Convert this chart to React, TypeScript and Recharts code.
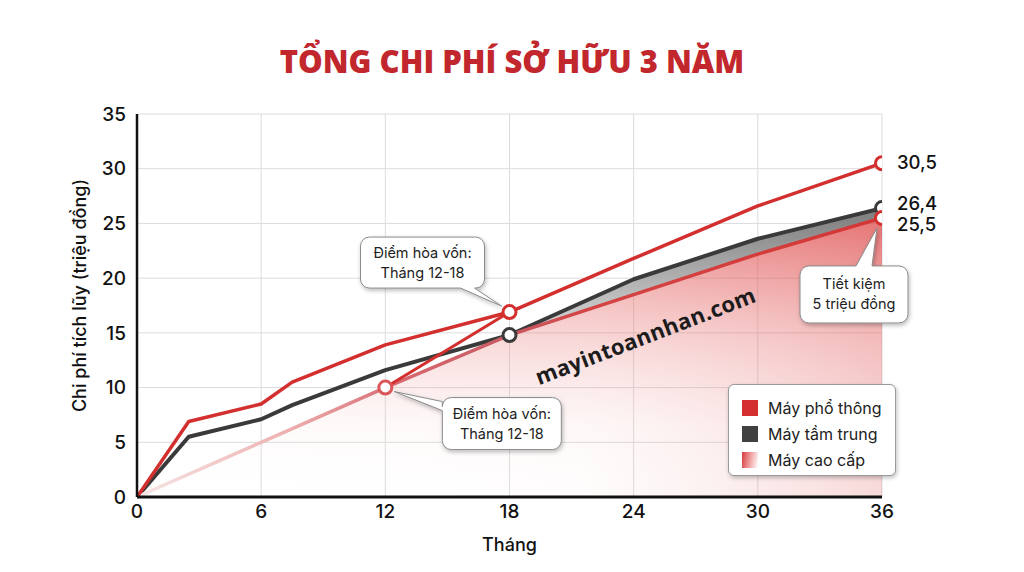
import {
  ComposedChart, Line, Area, XAxis, YAxis, CartesianGrid, ReferenceDot, Legend,
} from 'recharts'

// tháng và chi phí tích lũy (triệu đồng)
const months = [0, 2.5, 6, 7.5, 12, 18, 24, 30, 36]
const mayPhoThong = [0, 6.9, 8.5, 10.5, 13.9, 16.9, 21.8, 26.6, 30.5]
const mayTamTrung = [0, 5.5, 7.1, 8.4, 11.6, 14.8, 19.9, 23.6, 26.4]
const mayCaoCap: (number | null)[] = [0, null, 5, null, 10, 14.8, 18.5, 22.2, 25.5]
const hoaVon: (number | null)[] = [null, null, null, null, 10, 16.9, null, null, null]

const xTicks = [0, 6, 12, 18, 24, 30, 36]
const yTicks = [0, 5, 10, 15, 20, 25, 30, 35]

const marksPhoThong = [18, 36]
const marksTamTrung = [18, 36]
const marksCaoCap = [12, 36]

const RED = '#d32f2f'
const DARK = '#3a3a3a'
const FONT = 'Inter, "Liberation Sans", Arial, sans-serif'

const data = months.map((m, i) => ({
  thang: m,
  phoThong: mayPhoThong[i],
  tamTrung: mayTamTrung[i],
  caoCap: mayCaoCap[i],
  hoaVon: hoaVon[i],
  chenhLech: m >= 18 && mayCaoCap[i] != null ? [mayCaoCap[i], mayTamTrung[i]] : null,
}))

const fmt = (v: number) => v.toFixed(1).replace('.', ',')
const last = months.length - 1

const dotFor = (marks: number[], color: (m: number) => string) => (p: any) => {
  const { cx, cy, payload, index } = p
  if (cy == null || !marks.includes(payload.thang)) return <g key={`d${index}`} />
  return <circle key={`d${index}`} cx={cx} cy={cy} r={6.5} fill="#fff" stroke={color(payload.thang)} strokeWidth={3} />
}

const endLabel = (dy: number) => (p: any) => {
  const { x, y, index, value } = p
  if (index !== last) return <g key={`l${index}`} />
  return (
    <text key={`l${index}`} x={x + 15} y={y + dy} dy={6} fontSize={18.5} fontWeight={500} fill="#111" fontFamily={FONT}>
      {fmt(value)}
    </text>
  )
}

// khung chú thích có đuôi trỏ về điểm
function bubblePath(x: number, y: number, w: number, h: number, r: number,
  side: string, t0: number, t1: number, tx: number, ty: number) {
  let d = `M${x + r},${y}`
  if (side === 'top') d += ` L${t0},${y} L${tx},${ty} L${t1},${y}`
  d += ` L${x + w - r},${y} A${r},${r} 0 0 1 ${x + w},${y + r} L${x + w},${y + h - r} A${r},${r} 0 0 1 ${x + w - r},${y + h}`
  if (side === 'bottom') d += ` L${t1},${y + h} L${tx},${ty} L${t0},${y + h}`
  d += ` L${x + r},${y + h} A${r},${r} 0 0 1 ${x},${y + h - r}`
  if (side === 'left') d += ` L${x},${t1} L${tx},${ty} L${x},${t0}`
  d += ` L${x},${y + r} A${r},${r} 0 0 1 ${x + r},${y} Z`
  return d
}

interface CalloutCfg {
  dx: number; dy: number; w: number; h: number
  side: string; t0: number; t1: number; tipDx: number; tipDy: number
  lines: string[]
}

const callout = (c: CalloutCfg) => (p: any) => {
  const { cx, cy } = p
  const x = cx + c.dx
  const y = cy + c.dy
  const base = c.side === 'left' ? y : x
  return (
    <g>
      <path
        d={bubblePath(x, y, c.w, c.h, 9, c.side, base + c.t0, base + c.t1, cx + c.tipDx, cy + c.tipDy)}
        fill="#fff" stroke="#8a8a8a" strokeWidth={1} filter="url(#bubbleShadow)"
      />
      {c.lines.map((t, i) => (
        <text key={i} x={x + c.w / 2} y={y + c.h / 2 + (i - (c.lines.length - 1) / 2) * 20 + 5}
          textAnchor="middle" fontSize={14.5} fill="#222" fontFamily={FONT}>{t}</text>
      ))}
    </g>
  )
}

const legendItems = [
  { name: 'Máy phổ thông', bg: RED },
  { name: 'Máy tầm trung', bg: '#404040' },
  { name: 'Máy cao cấp', bg: 'linear-gradient(100deg, #d63a3a 0%, #f2a9a9 55%, #fff 100%)' },
]

function LegendBox() {
  return (
    <div style={{
      width: 168, height: 92, boxSizing: 'border-box', background: '#fff',
      border: '1px solid #9a9a9a', borderRadius: 6, boxShadow: '1px 2px 4px rgba(0,0,0,0.25)',
      padding: '10px 0 0 13px', fontFamily: FONT,
    }}>
      {legendItems.map(it => (
        <div key={it.name} style={{ display: 'flex', alignItems: 'center', height: 26 }}>
          <span style={{ width: 16, height: 16, background: it.bg, marginRight: 10 }} />
          <span style={{ fontSize: 16, color: '#222' }}>{it.name}</span>
        </div>
      ))}
    </div>
  )
}

export default function App() {
  return (
    <div style={{ position: 'absolute', left: 0, top: 0, width: 1024, height: 572, background: '#fff', overflow: 'hidden' }}>
      <div style={{
        position: 'absolute', top: 40, left: 0, width: 1024, textAlign: 'center',
        fontFamily: '"Open Sans", sans-serif', fontWeight: 800, fontSize: 31, color: '#c1272d',
      }}>
        TỔNG CHI PHÍ SỞ HỮU 3 NĂM
      </div>

      <ComposedChart width={1024} height={572} data={data}
        margin={{ top: 114, right: 142, bottom: 15, left: 0 }}>
        <defs>
          <linearGradient id="premFillV" x1="0" y1="0" x2="0" y2="1">
            <stop offset="0%" stopColor="#dc3c3c" stopOpacity={0.65} />
            <stop offset="35%" stopColor="#e46060" stopOpacity={0.32} />
            <stop offset="75%" stopColor="#f0a0a0" stopOpacity={0.05} />
            <stop offset="100%" stopColor="#ffffff" stopOpacity={0} />
          </linearGradient>
          <linearGradient id="premFillH" x1="0" y1="0" x2="1" y2="0">
            <stop offset="0%" stopColor="#ffffff" stopOpacity={0} />
            <stop offset="60%" stopColor="#f0a0a0" stopOpacity={0.03} />
            <stop offset="100%" stopColor="#dc4040" stopOpacity={0.2} />
          </linearGradient>
          <linearGradient id="premStroke" x1="0" y1="0" x2="1" y2="0">
            <stop offset="0%" stopColor="#f6e6e6" />
            <stop offset="20%" stopColor="#eeb1b1" />
            <stop offset="35%" stopColor="#d66a70" />
            <stop offset="50%" stopColor="#c85a62" />
            <stop offset="60%" stopColor="#d44444" />
            <stop offset="100%" stopColor="#d43636" />
          </linearGradient>
          <linearGradient id="grayFill" x1="0" y1="0" x2="0" y2="1">
            <stop offset="0%" stopColor="#7c7c7c" />
            <stop offset="100%" stopColor="#dadada" />
          </linearGradient>
          <filter id="bubbleShadow" x="-20%" y="-20%" width="140%" height="150%">
            <feDropShadow dx={1} dy={2} stdDeviation={2} floodColor="#000" floodOpacity={0.28} />
          </filter>
        </defs>
        <CartesianGrid stroke="#dcdcdc" strokeWidth={1} />
        <XAxis dataKey="thang" type="number" domain={[0, 36]} ticks={xTicks} allowDataOverflow
          tickLine={false} tickSize={0} tickMargin={8} height={60}
          axisLine={{ stroke: '#111', strokeWidth: 3 }}
          tick={{ fontSize: 19, fill: '#111', fontFamily: FONT, fontWeight: 500 }}
          label={{ value: 'Tháng', position: 'insideBottom', offset: 6,
            style: { fontSize: 18, fill: '#111', fontFamily: FONT, fontWeight: 500 } }} />
        <YAxis type="number" domain={[0, 35]} ticks={yTicks} width={137}
          tickLine={false} tickSize={0} tickMargin={11}
          axisLine={{ stroke: '#111', strokeWidth: 2.5 }}
          tick={{ fontSize: 19, fill: '#111', fontFamily: FONT, fontWeight: 500 }}
          label={{ value: 'Chi phí tích lũy (triệu đồng)', angle: -90, position: 'insideLeft', offset: 80, dy: -10,
            style: { fontSize: 18, fill: '#111', fontFamily: FONT, fontWeight: 500, textAnchor: 'middle' } }} />

        <Area dataKey="caoCap" type="linear" connectNulls fill="url(#premFillV)" fillOpacity={1}
          stroke="none" isAnimationActive={false} activeDot={false} />
        <Area dataKey="caoCap" type="linear" connectNulls fill="url(#premFillH)" fillOpacity={1}
          stroke="none" isAnimationActive={false} activeDot={false} legendType="none" />
        <Area dataKey="chenhLech" type="linear" fill="url(#grayFill)" fillOpacity={1}
          stroke="none" isAnimationActive={false} activeDot={false} />

        <Line dataKey="tamTrung" type="linear" stroke={DARK} strokeWidth={4} strokeLinejoin="round"
          dot={dotFor(marksTamTrung, () => DARK)} activeDot={false}
          label={endLabel(-4)} isAnimationActive={false} />
        <Line dataKey="caoCap" type="linear" connectNulls stroke="url(#premStroke)" strokeWidth={3.5}
          dot={dotFor(marksCaoCap, m => (m === 12 ? '#d9575b' : RED))} activeDot={false}
          label={endLabel(7)} isAnimationActive={false} />
        <Line dataKey="hoaVon" type="linear" connectNulls stroke={RED} strokeWidth={3}
          dot={false} activeDot={false} isAnimationActive={false} />
        <Line dataKey="phoThong" type="linear" stroke={RED} strokeWidth={3.5} strokeLinejoin="round"
          dot={dotFor(marksPhoThong, () => RED)} activeDot={false}
          label={endLabel(0)} isAnimationActive={false} />

        <ReferenceDot x={18} y={16.9} r={0} ifOverflow="visible"
          shape={callout({ dx: -149, dy: -75, w: 124, h: 51, side: 'bottom', t0: 100, t1: 114,
            tipDx: -8, tipDy: -6, lines: ['Điểm hòa vốn:', 'Tháng 12-18'] })} />
        <ReferenceDot x={12} y={10} r={0} ifOverflow="visible"
          shape={callout({ dx: 57, dy: 10, w: 119, h: 52, side: 'left', t0: 4, t1: 13,
            tipDx: 9, tipDy: 4, lines: ['Điểm hòa vốn:', 'Tháng 12-18'] })} />
        <ReferenceDot x={36} y={25.5} r={0} ifOverflow="visible"
          shape={callout({ dx: -82, dy: 48, w: 108, h: 57, side: 'top', t0: 56, t1: 72,
            tipDx: -5, tipDy: 10, lines: ['Tiết kiệm', '5 triệu đồng'] })} />

        <Legend layout="vertical" align="center" verticalAlign="middle"
          wrapperStyle={{ left: 728, top: 384, width: 168, height: 92 }}
          content={() => <LegendBox />} />
      </ComposedChart>

      <div style={{
        position: 'absolute', left: 645, top: 335, transform: 'translate(-50%, -50%) rotate(-21deg)',
        fontFamily: '"Open Sans", sans-serif', fontWeight: 700, fontSize: 22, color: '#1c1c1c',
        whiteSpace: 'nowrap', letterSpacing: 0.3,
      }}>
        mayintoannhan.com
      </div>
    </div>
  )
}
